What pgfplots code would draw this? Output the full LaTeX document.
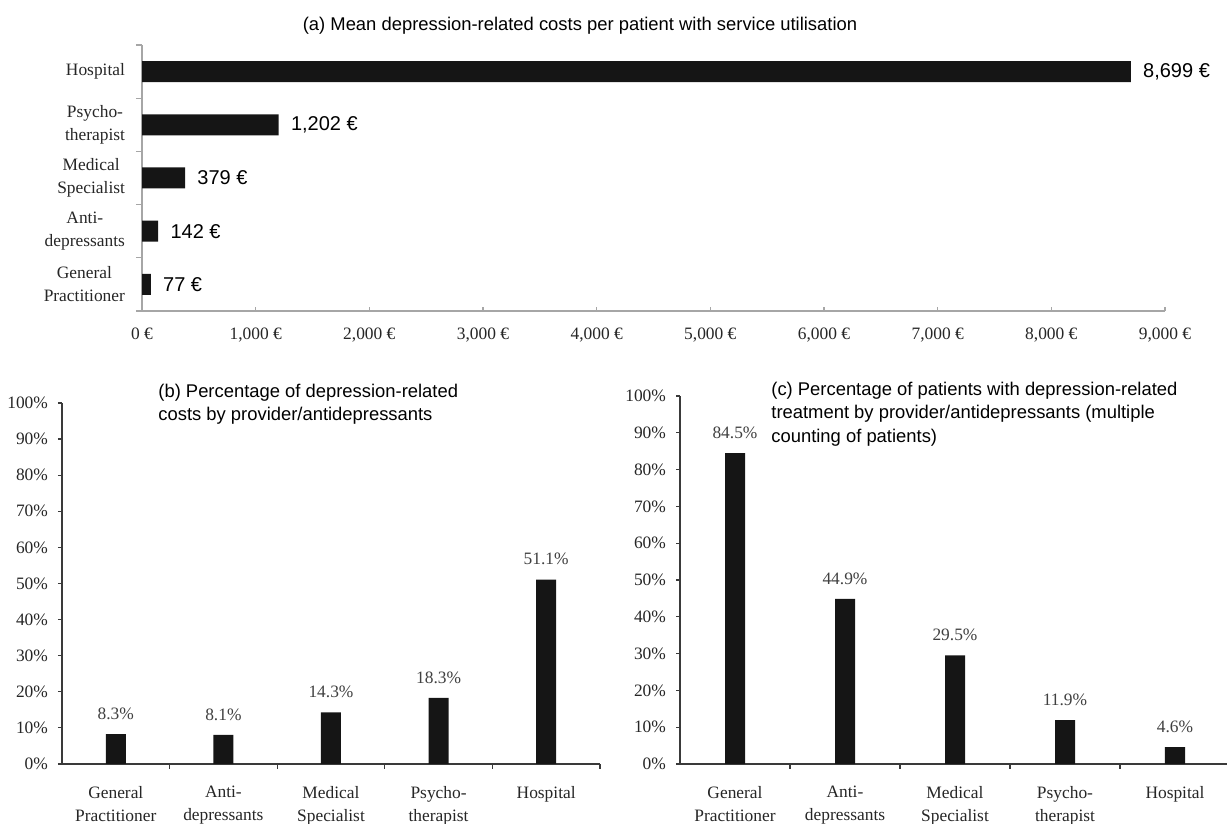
\documentclass[border=0pt]{standalone}
\usepackage{pgfplots}
\pgfplotsset{compat=1.18}
\usepackage{fontspec}
\setmainfont{Liberation Serif}
\newfontfamily\arial{Liberation Sans}

\definecolor{barfill}{HTML}{151515}
\definecolor{ticktext}{HTML}{262626}
\definecolor{valtext}{HTML}{404040}
\definecolor{axisgray}{HTML}{A6A6A6}
\definecolor{axisdark}{HTML}{3A3A3A}

\newcommand{\tickfont}{\fontsize{8.7pt}{11.5pt}\selectfont}
\newcommand{\titlefont}{\arial\fontsize{9.2pt}{11.6pt}\selectfont}

\pgfplotsset{/pgf/number format/assume math mode=true}

% shared look of the two percentage panels
\pgfplotsset{
  pctpanel/.style={
    anchor=south west, scale only axis,
    xmin=-0.5, xmax=4.5, ymin=0, ymax=100,
    axis x line*=bottom, axis y line*=left,
    axis line style={axisdark, line width=0.6pt},
    ybar, bar width=10pt,
    tick align=outside, major tick length=2pt, minor tick length=2.5pt,
    tick style={axisdark, line width=0.6pt},
    xtick={0,...,4}, minor xtick={0.5,1.5,2.5,3.5,4.5},
    major x tick style={draw=none},
    xticklabels={{General\\Practitioner},{Anti-\\depressants},{Medical\\Specialist},{Psycho-\\therapist},Hospital},
    xticklabel style={align=center, font=\tickfont, text=ticktext, yshift=-5.5pt},
    ytick={0,10,...,100},
    yticklabels={0\%,10\%,20\%,30\%,40\%,50\%,60\%,70\%,80\%,90\%,100\%},
    yticklabel style={font=\tickfont, text=ticktext, xshift=-1.5pt},
    nodes near coords={\pgfmathprintnumber[fixed,fixed zerofill,precision=1]{\pgfplotspointmeta}\%},
    nodes near coords style={font=\tickfont, text=valtext, inner sep=0pt, anchor=south, yshift=7pt},
  }
}

\begin{document}
\begin{tikzpicture}
\useasboundingbox (0,0) rectangle (613.5pt,412pt);

% (a) mean costs per patient
\begin{axis}[
  at={(71pt,256.5pt)}, anchor=south west,
  scale only axis, width=511.5pt, height=133pt,
  xmin=0, xmax=9000, ymin=-0.5, ymax=4.5,
  axis x line*=bottom, axis y line*=left,
  axis line style={axisgray, line width=0.6pt},
  tick style={axisgray, line width=0.6pt},
  xbar, bar width=10.5pt,
  xtick align=inside, ytick align=outside,
  major tick length=2pt, minor tick length=3pt,
  xtick={0,1000,...,9000},
  xticklabels={0 €,{1,000 €},{2,000 €},{3,000 €},{4,000 €},{5,000 €},{6,000 €},{7,000 €},{8,000 €},{9,000 €}},
  xticklabel style={font=\tickfont, text=ticktext, yshift=-5pt},
  ytick={0,...,4}, minor ytick={-0.5,0.5,1.5,2.5,3.5,4.5},
  major y tick style={draw=none},
  yticklabels={{General\\Practitioner},{Anti-\\depressants},{Medical\\Specialist},{Psycho-\\therapist},Hospital},
  yticklabel style={align=center, font=\tickfont, text=ticktext, xshift=-3pt},
  point meta=x,
  nodes near coords={\pgfmathprintnumber[fixed,precision=0,1000 sep={,}]{\pgfplotspointmeta}~€},
  nodes near coords style={font=\arial\fontsize{10pt}{12pt}\selectfont, text=black, anchor=west, inner sep=0pt, xshift=6pt},
]
\addplot[fill=barfill, draw=none] coordinates {(77,0) (142,1) (379,2) (1202,3) (8699,4)};
\end{axis}

% (b) share of costs
\begin{axis}[pctpanel, at={(31pt,30pt)}, width=269pt, height=180.5pt]
\addplot[fill=barfill, draw=none] coordinates {(0,8.3) (1,8.1) (2,14.3) (3,18.3) (4,51.1)};
\end{axis}

% (c) share of patients treated
\begin{axis}[pctpanel, at={(340pt,30pt)}, width=275pt, height=184pt]
\addplot[fill=barfill, draw=none] coordinates {(0,84.5) (1,44.9) (2,29.5) (3,11.9) (4,4.6)};
\end{axis}

\node[font=\titlefont, inner sep=0pt] at (290pt,399pt)
  {(a) Mean depression-related costs per patient with service utilisation};
\node[anchor=north west, align=left, font=\titlefont, inner sep=0pt] at (79pt,220pt)
  {(b) Percentage of depression-related\\costs by provider/antidepressants};
\node[anchor=north west, align=left, font=\titlefont, inner sep=0pt] at (385.5pt,221pt)
  {(c) Percentage of patients with depression-related\\treatment by provider/antidepressants (multiple\\counting of patients)};
\end{tikzpicture}
\end{document}
